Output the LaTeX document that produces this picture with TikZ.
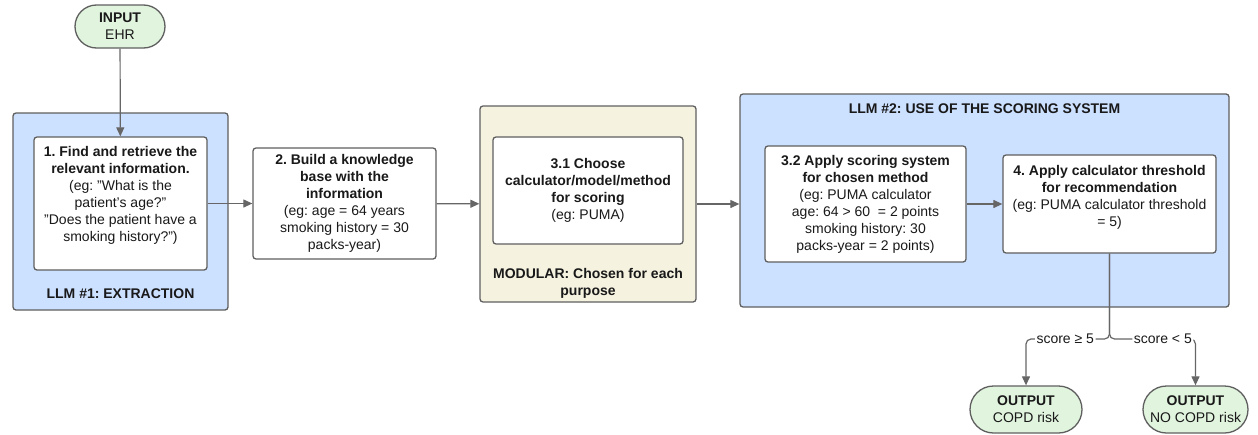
\documentclass[tikz,border=0pt]{standalone}
\usepackage{fontspec}
\setmainfont{Liberation Sans}
\usetikzlibrary{arrows.meta,shapes.misc}
\frenchspacing
\definecolor{bd}{HTML}{5F5F5F}
\definecolor{ln}{HTML}{666666}
\definecolor{llmblue}{HTML}{CCE0FF}
\definecolor{modbeige}{HTML}{F5F2E0}
\definecolor{termgreen}{HTML}{E1F4DE}
\newcommand{\qq}{\symbol{34}}
\tikzset{
  base/.style={font=\fontsize{14}{17}\selectfont, align=center, text=black!90},
  stepbox/.style={base, draw=bd, line width=1.3pt, rounded corners=3pt, fill=white, inner sep=0pt},
  group/.style={draw=bd, line width=1.3pt, rounded corners=3pt, inner sep=0pt},
  term/.style={base, rounded rectangle, draw=bd, line width=1.3pt, fill=termgreen, inner sep=0pt},
  txt/.style={base, inner sep=0pt},
  flow/.style={draw=ln, line width=1.2pt, -{Triangle[length=9pt,width=8pt]}},
  lbl/.style={base, fill=white, inner sep=1.5pt},
}
\begin{document}
\begin{tikzpicture}[x=1pt,y=-1pt]
\useasboundingbox (0,0) rectangle (1258,434);
% containers
\node[group, fill=llmblue, minimum width=215, minimum height=197] (c1) at (120.5,211.5) {};
\node[group, fill=modbeige, minimum width=216, minimum height=196] (c3) at (588,204) {};
\node[group, fill=llmblue, minimum width=489, minimum height=213] (c4) at (984.5,200.5) {};
% input
\node[term, minimum width=90, minimum height=43] (in) at (120,26.5) {\textbf{INPUT}\\EHR};
% step 1
\node[stepbox, minimum width=173, minimum height=133] (b1) at (120.5,203.5) {};
\node[txt, anchor=north] (t1) at (120.5,146.5) {\textbf{1. Find and retrieve the}\\\textbf{relevant information.}\\(eg: \qq What is the\\patient's age?\qq\\\qq Does the patient have a\\smoking history?\qq)};
\node[txt, font=\fontsize{14}{17}\selectfont\bfseries] (l1) at (120.5,294) {LLM \#1: EXTRACTION};
% step 2
\node[stepbox, minimum width=183, minimum height=111] (b2) at (344.5,203.5) {\textbf{2. Build a knowledge}\\\textbf{base with the}\\\textbf{information}\\(eg: age = 64 years\\smoking history = 30\\packs-year)};
% step 3.1
\node[stepbox, minimum width=190, minimum height=107] (b31) at (588,190.5) {\textbf{3.1 Choose}\\\textbf{calculator/model/method}\\\textbf{for scoring}\\(eg: PUMA)};
\node[txt, font=\fontsize{14}{17}\selectfont\bfseries] (l3) at (588,283) {MODULAR: Chosen for each\\purpose};
% LLM 2
\node[txt, font=\fontsize{14}{17}\selectfont\bfseries] (l4) at (984.5,109) {LLM \#2: USE OF THE SCORING SYSTEM};
\node[stepbox, minimum width=201, minimum height=116] (b32) at (865.5,204) {\textbf{3.2 Apply scoring system}\\\textbf{for chosen method}\\(eg: PUMA calculator\\age: 64 > 60 \ = 2 points\\smoking history: 30\\packs-year = 2 points)};
\node[stepbox, minimum width=213, minimum height=98] (b4) at (1109.5,204) {};
\node[txt, anchor=north] (t4) at (1109.5,165) {\textbf{4. Apply calculator threshold}\\\textbf{for recommendation}\\(eg: PUMA calculator threshold\\= 5)};
% outputs
\node[term, minimum width=112, minimum height=47] (o1) at (1026,409.5) {\textbf{OUTPUT}\\COPD risk};
\node[term, minimum width=105, minimum height=47] (o2) at (1195.5,409.5) {\textbf{OUTPUT}\\NO COPD risk};
\coordinate (split) at (1109.5,339);
% connectors
\draw[flow] (in) -- (b1);
\draw[flow] (b1) -- (b2);
\draw[flow] (b2) -- (c3);
\draw[flow] (c3) -- (c4.west |- c3.east);
\draw[flow] (b32) -- (b32.east -| b4.west);
\draw[flow, rounded corners=5pt] (b4.south) -- (split) -| node[lbl, pos=0.265] (s1) {score ≥ 5} (o1.north);
\draw[flow, rounded corners=5pt] (b4.south) -- (split) -| node[lbl, pos=0.31] (s2) {score < 5} (o2.north);
\end{tikzpicture}
\end{document}
